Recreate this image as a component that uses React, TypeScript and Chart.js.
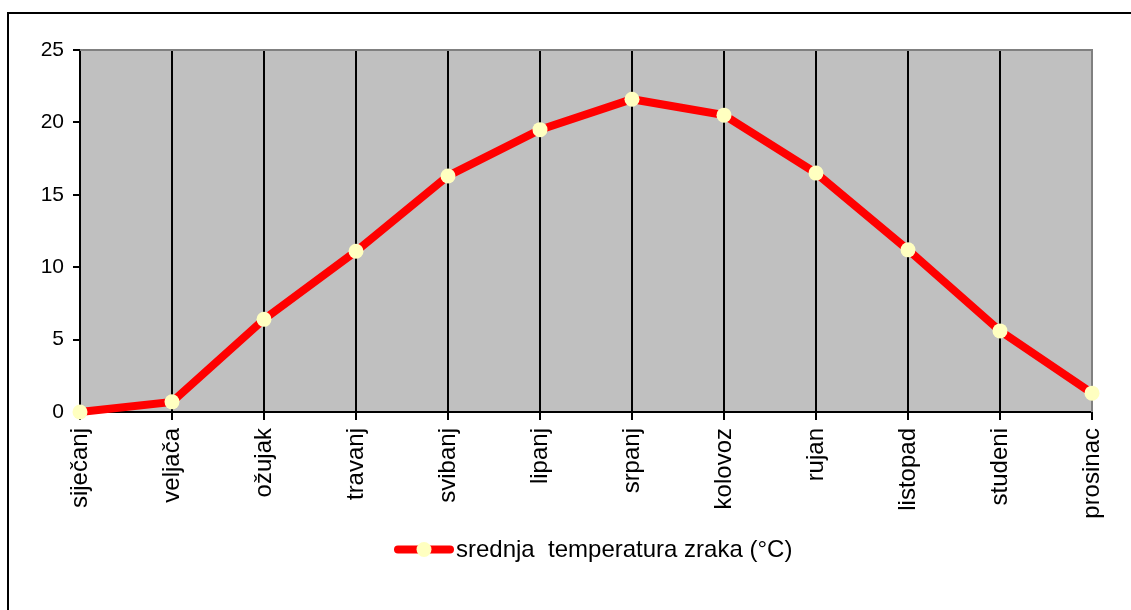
import React, { useEffect, useRef } from "react";
import { Chart, registerables } from "chart.js";

Chart.register(...registerables);

const months = ["siječanj", "veljača", "ožujak", "travanj", "svibanj", "lipanj", "srpanj", "kolovoz", "rujan", "listopad", "studeni", "prosinac"];
const temperature = [0, 0.7, 6.4, 11.1, 16.3, 19.5, 21.6, 20.5, 16.5, 11.2, 5.6, 1.3];
const seriesLabel = "srednja  temperatura zraka (°C)";
const yMin = 0;
const yMax = 25;
const yStep = 5;

const FONT = "Arial, 'Liberation Sans', sans-serif";

const framePlugin = {
  id: "frame",
  beforeDraw(chart: any) {
    const { ctx, chartArea } = chart;
    ctx.save();
    ctx.fillStyle = "#ffffff";
    ctx.fillRect(0, 0, chart.width, chart.height);
    ctx.fillStyle = "#c0c0c0";
    ctx.fillRect(chartArea.left, chartArea.top, chartArea.right - chartArea.left, chartArea.bottom - chartArea.top);
    ctx.strokeStyle = "#000000";
    ctx.lineWidth = 2;
    ctx.beginPath();
    ctx.moveTo(8, chart.height + 5);
    ctx.lineTo(8, 13);
    ctx.lineTo(chart.width + 5, 13);
    ctx.stroke();
    ctx.restore();
  },
  beforeDatasetsDraw(chart: any) {
    const { ctx, chartArea } = chart;
    ctx.save();
    ctx.strokeStyle = "#808080";
    ctx.lineWidth = 2;
    ctx.beginPath();
    ctx.moveTo(chartArea.left, Math.round(chartArea.top));
    ctx.lineTo(Math.round(chartArea.right), Math.round(chartArea.top));
    ctx.lineTo(Math.round(chartArea.right), chartArea.bottom);
    ctx.stroke();
    ctx.restore();
  },
  afterDraw(chart: any) {
    const { ctx } = chart;
    const ds = chart.data.datasets[0];
    const y = 549.5;
    ctx.save();
    ctx.strokeStyle = ds.borderColor;
    ctx.lineWidth = ds.borderWidth;
    ctx.lineCap = "round";
    ctx.beginPath();
    ctx.moveTo(398, y);
    ctx.lineTo(450, y);
    ctx.stroke();
    ctx.fillStyle = ds.pointBackgroundColor;
    ctx.beginPath();
    ctx.arc(424, y, ds.pointRadius, 0, Math.PI * 2);
    ctx.fill();
    ctx.fillStyle = "#000000";
    ctx.font = `24px ${FONT}`;
    ctx.textBaseline = "middle";
    ctx.textAlign = "left";
    ctx.fillText(ds.label, 456, y + 1);
    ctx.restore();
  },
};

export default function App() {
  const ref = useRef<HTMLCanvasElement | null>(null);

  useEffect(() => {
    if (!ref.current) return;
    const chart = new Chart(ref.current, {
      type: "line",
      data: {
        labels: months,
        datasets: [
          {
            label: seriesLabel,
            data: temperature,
            borderColor: "#ff0000",
            borderWidth: 8,
            pointBackgroundColor: "#ffffc0",
            pointBorderColor: "#ffffc0",
            pointBorderWidth: 0,
            pointRadius: 7.5,
            pointHoverRadius: 7.5,
            tension: 0,
            clip: false,
          } as any,
        ],
      },
      options: {
        responsive: false,
        animation: false,
        events: [],
        layout: { padding: { top: 50, right: 39, left: 0, bottom: 0 } },
        plugins: {
          legend: { display: false },
          tooltip: { enabled: false },
          title: { display: false },
        },
        scales: {
          x: {
            offset: false,
            afterFit(scale: any) {
              scale.height = 198;
            },
            border: { display: true, color: "#000000", width: 2 },
            grid: {
              display: true,
              drawOnChartArea: true,
              drawTicks: true,
              tickLength: 8,
              lineWidth: 2,
              color: (c: any) => (c.index === months.length - 1 ? "#808080" : "#000000"),
              tickColor: "#000000",
            },
            ticks: {
              color: "#000000",
              font: { family: FONT, size: 24 },
              minRotation: 90,
              maxRotation: 90,
              padding: 8,
              autoSkip: false,
            },
          },
          y: {
            min: yMin,
            max: yMax,
            afterFit(scale: any) {
              scale.width = 80;
            },
            border: { display: true, color: "#000000", width: 2 },
            grid: {
              display: true,
              drawOnChartArea: false,
              drawTicks: true,
              tickLength: 7,
              lineWidth: 2,
              color: "#000000",
            },
            ticks: {
              stepSize: yStep,
              color: "#000000",
              font: { family: FONT, size: 21 },
              padding: 9,
            },
          },
        },
      },
      plugins: [framePlugin],
    });
    return () => chart.destroy();
  }, []);

  return (
    <div style={{ position: "fixed", left: 0, top: 0, width: 1131, height: 610, background: "#fff" }}>
      <canvas ref={ref} width={1131} height={610} style={{ display: "block", width: 1131, height: 610 }} />
    </div>
  );
}
